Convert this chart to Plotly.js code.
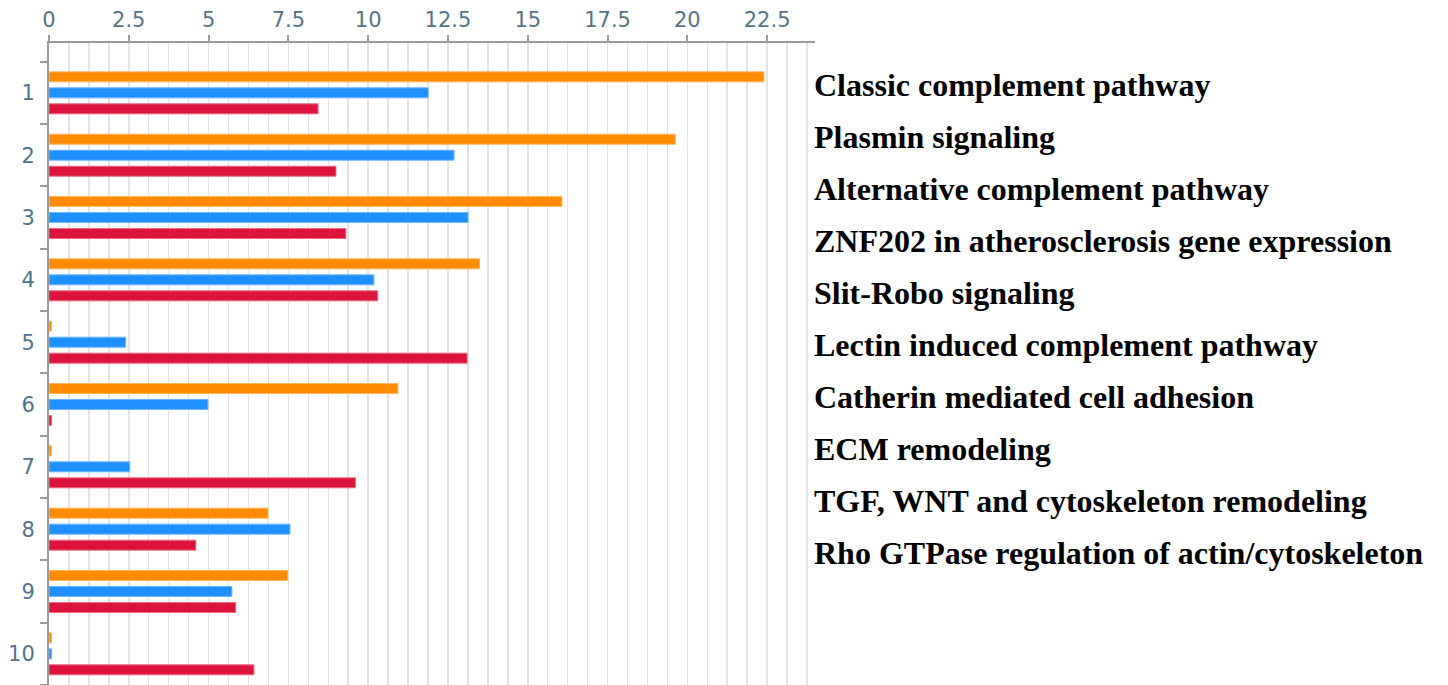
<!DOCTYPE html>
<html>
<head>
<meta charset="utf-8">
<script src="https://cdn.plot.ly/plotly-3.0.1.min.js"></script>
<style>html,body{margin:0;padding:0;background:#fff;}#chart{width:1448px;height:685px;}</style>
</head>
<body>
<div id="chart"></div>
<script>
const categories = [1, 2, 3, 4, 5, 6, 7, 8, 9, 10];
const categoryLabels = ["1", "2", "3", "4", "5", "6", "7", "8", "9", "10"];
const pathwayNames = [
  "Classic complement pathway",
  "Plasmin signaling",
  "Alternative complement pathway",
  "ZNF202 in atherosclerosis gene expression",
  "Slit-Robo signaling",
  "Lectin induced complement pathway",
  "Catherin mediated cell adhesion",
  "ECM remodeling",
  "TGF, WNT and cytoskeleton remodeling",
  "Rho GTPase regulation of actin/cytoskeleton"
];
const orangeValues = [22.4, 19.62, 16.07, 13.49, 0.08, 10.93, 0.08, 6.86, 7.48, 0.08];
const blueValues   = [11.88, 12.69, 13.13, 10.18, 2.4, 4.98, 2.53, 7.55, 5.73, 0.08];
const redValues    = [8.43, 8.99, 9.30, 10.3, 13.1, 0.08, 9.6, 4.60, 5.85, 6.42];

const W = 1448, H = 685;
const mL = 49, mR = 633, mT = 43, mB = 0;
const plotH = H - mT - mB;

function barTrace(vals, color, lineColor) {
  return {
    type: 'bar', orientation: 'h', x: vals, y: categories,
    marker: {color: color, line: {color: lineColor, width: 1}},
    hoverinfo: 'x', showlegend: false
  };
}

const data = [
  barTrace(orangeValues, '#FF8C00', '#FFB55C'),
  barTrace(blueValues, '#1E90FF', '#6DB6FF'),
  barTrace(redValues, '#DC143C', '#EA6A82')
];

// text lines on the right, first line centre at 85px, 52px apart
const annotations = pathwayNames.map((t, i) => ({
  text: t, xref: 'paper', yref: 'paper', x: 1, xanchor: 'left', xshift: -3,
  y: (H - (85 + 52 * i)) / plotH, yanchor: 'middle',
  showarrow: false, align: 'left',
  font: {family: 'Liberation Serif, Times New Roman, serif', size: 32, color: '#000', weight: 'bold'}
}));

const layout = {
  width: W, height: H,
  margin: {l: mL, r: mR, t: mT, b: mB, pad: 0},
  paper_bgcolor: '#fff', plot_bgcolor: '#fff',
  barmode: 'group', bargap: 0.23, bargroupgap: 0.375,
  xaxis: {
    side: 'top', range: [0, 24], dtick: 2.5, tick0: 0,
    showline: true, linecolor: '#9a9a9a', linewidth: 2,
    ticks: 'outside', ticklen: 6, tickcolor: '#9a9a9a', tickwidth: 2,
    showgrid: true, gridcolor: '#e4e4e4', gridwidth: 1.5,
    minor: {dtick: 0.625, tick0: 0, showgrid: true, gridcolor: '#e4e4e4', gridwidth: 1.5, ticks: ''},
    zeroline: false,
    tickfont: {family: 'DejaVu Sans, Verdana, sans-serif', size: 21, color: '#557388'},
    fixedrange: true
  },
  yaxis: {
    range: [10.5, 0.2],
    tickmode: 'array', tickvals: categories, ticktext: categoryLabels,
    ticks: '', showgrid: false, zeroline: false,
    showline: true, linecolor: '#9a9a9a', linewidth: 2,
    minor: {tick0: 1.5, dtick: 1, ticks: 'outside', ticklen: 7, tickcolor: '#9a9a9a', tickwidth: 2, showgrid: false},
    ticklabelstandoff: 8,
    tickfont: {family: 'DejaVu Sans, Verdana, sans-serif', size: 21, color: '#557388'},
    fixedrange: true
  },
  annotations: annotations
};

Plotly.newPlot('chart', data, layout, {displayModeBar: false, staticPlot: true});
</script>
</body>
</html>
